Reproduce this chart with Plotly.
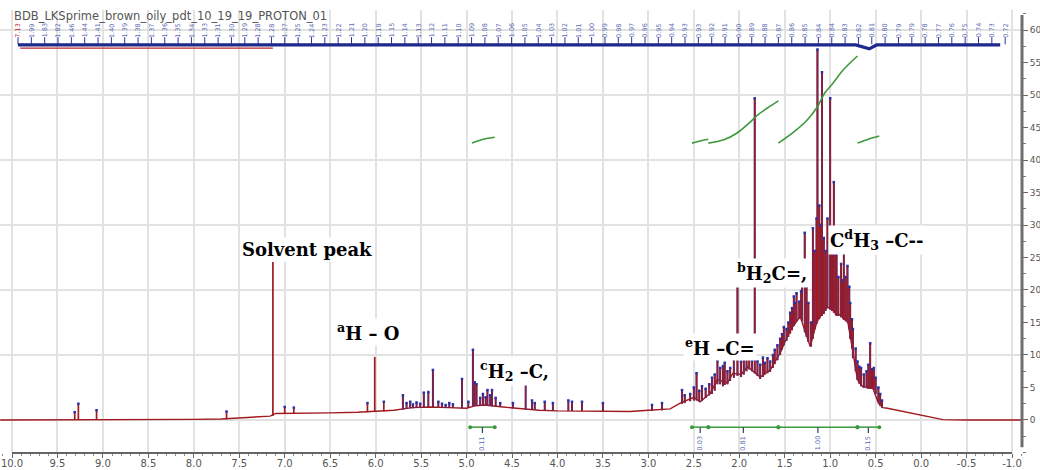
import numpy as np
import plotly.graph_objects as go

# ---------------- data ----------------
# continuous baseline / envelope of the 1H spectrum (ppm, intensity)
env_ppm = [10.13, 9.60, 9.00, 8.50, 8.00, 7.70, 7.50, 7.30, 7.16, 7.10, 6.80, 6.50, 6.20, 6.00,
           5.80, 5.60, 5.40, 5.20, 5.00, 4.90, 4.80, 4.60, 4.40, 4.20, 4.00, 3.80, 3.50, 3.20,
           3.00, 2.76, 2.65, 2.57, 2.50, 2.43, 2.32, 2.24, 2.13, 2.07, 1.98, 1.91, 1.77, 1.66,
           1.55, 1.44, 1.33, 1.22, 1.14, 1.03, 0.92, 0.81, 0.76, 0.70, 0.64, 0.53, 0.47, 0.42,
           0.37, 0.20, 0.01, -0.24, -0.50, -1.11]
env_int = [0.0, 0.0, 0.05, 0.05, 0.1, 0.15, 0.3, 0.5, 0.6, 1.0, 1.0, 1.1, 1.2, 1.3,
           1.5, 1.9, 2.0, 1.9, 1.8, 2.2, 2.3, 2.0, 1.7, 1.5, 1.4, 1.4, 1.3, 1.3,
           1.5, 1.7, 2.6, 3.1, 3.5, 2.8, 4.1, 6.2, 5.7, 7.2, 7.0, 8.2, 6.6, 7.7,
           10.3, 13.8, 15.9, 11.3, 15.4, 17.4, 16.4, 15.4, 11.3, 6.2, 5.1, 4.9, 2.6, 1.9,
           1.8, 1.3, 0.8, 0.05, 0.0, 0.0]

# isolated sharp lines (ppm, foot, top)
sharp_peaks = [(9.31, 0.0, 1.2), (9.27, 0.0, 2.5), (9.07, 0.05, 1.5), (7.64, 0.1, 1.3),
               (7.13, 0.6, 24.3), (7.00, 1.0, 2.0), (6.90, 1.0, 1.9), (6.09, 1.2, 2.6),
               (6.01, 1.25, 9.7), (5.91, 1.3, 2.8)]

# multiplets between 5.7 and 2.8 ppm (ppm, foot, top)
mid_peaks = [(5.70, 1.6, 3.8), (5.66, 1.7, 2.6), (5.62, 1.8, 2.8), (5.59, 1.8, 2.4), (5.55, 1.9, 2.7),
             (5.51, 1.9, 2.5), (5.47, 2.0, 4.2), (5.42, 2.0, 4.3), (5.37, 2.0, 7.7), (5.31, 2.0, 2.8),
             (5.27, 1.9, 2.5), (5.23, 1.9, 2.3), (5.19, 1.9, 2.6), (5.15, 1.9, 2.4), (5.05, 1.8, 6.3),
             (4.98, 1.9, 2.8), (4.93, 2.1, 10.8), (4.91, 2.2, 5.8), (4.89, 2.2, 5.5), (4.85, 2.2, 3.4),
             (4.82, 2.3, 4.0), (4.79, 2.3, 3.5), (4.77, 2.2, 4.6), (4.74, 2.2, 3.8), (4.72, 2.1, 4.6),
             (4.68, 2.1, 3.4), (4.63, 2.0, 2.6), (4.49, 1.8, 2.6), (4.35, 1.6, 5.8), (4.28, 1.6, 3.0),
             (4.25, 1.6, 2.6), (4.14, 1.5, 2.8), (4.05, 1.4, 2.6), (3.88, 1.4, 3.0), (3.84, 1.4, 2.8),
             (3.73, 1.4, 2.8), (3.50, 1.3, 2.6), (2.96, 1.4, 2.3), (2.85, 1.5, 2.6)]

# dense aliphatic envelope 2.65 - 0.43 ppm (ppm, foot, top)
hump_peaks = [(2.63, 2.5, 4.6), (2.60, 2.6, 3.8), (2.54, 2.9, 4.0), (2.50, 3.0, 5.0), (2.47, 3.0, 7.2),
              (2.44, 2.8, 4.5), (2.41, 3.0, 5.2), (2.37, 3.4, 4.8), (2.33, 3.8, 5.5), (2.30, 4.0, 6.5),
              (2.27, 4.5, 7.0), (2.24, 5.5, 9.2), (2.21, 5.5, 8.0), (2.18, 5.2, 8.3), (2.16, 5.4, 8.8),
              (2.13, 5.5, 7.5), (2.10, 6.0, 8.0), (2.06, 6.5, 9.3), (2.02, 6.8, 21.0), (1.98, 6.6, 9.0),
              (1.95, 7.0, 10.5), (1.92, 7.5, 9.8), (1.89, 7.8, 10.2), (1.86, 7.5, 9.2), (1.83, 7.2, 49.5),
              (1.80, 6.8, 9.0), (1.77, 6.3, 8.5), (1.74, 6.6, 9.6), (1.72, 7.0, 8.8), (1.69, 7.2, 9.5),
              (1.66, 7.4, 9.0), (1.63, 8.0, 10.0), (1.61, 8.6, 10.8), (1.58, 9.2, 11.5), (1.55, 10.0, 12.5),
              (1.53, 10.8, 13.2), (1.51, 11.5, 14.3), (1.48, 12.2, 14.0), (1.46, 12.8, 15.0), (1.44, 13.3, 16.5),
              (1.42, 13.8, 17.2), (1.40, 14.5, 19.0), (1.39, 14.8, 18.0), (1.37, 15.2, 19.5), (1.34, 15.6, 18.2),
              (1.32, 15.8, 19.8), (1.31, 15.2, 21.0), (1.28, 13.5, 28.8), (1.26, 12.8, 20.5), (1.24, 12.0, 18.0),
              (1.21, 11.3, 15.0), (1.19, 12.5, 29.5), (1.17, 14.0, 26.0), (1.15, 14.8, 31.0), (1.14, 15.2, 57.0),
              (1.12, 15.5, 33.0), (1.11, 15.8, 30.0), (1.09, 16.0, 53.5), (1.07, 16.3, 28.0), (1.05, 16.8, 26.0),
              (1.03, 17.2, 31.0), (1.00, 17.0, 49.5), (0.98, 16.8, 27.0), (0.96, 16.5, 36.6), (0.94, 16.2, 25.5),
              (0.93, 16.0, 26.6), (0.91, 16.0, 22.0), (0.88, 15.8, 24.0), (0.86, 15.6, 21.5), (0.85, 15.4, 26.6),
              (0.83, 15.2, 22.0), (0.81, 15.0, 23.7), (0.79, 14.0, 20.5), (0.78, 12.5, 18.0), (0.76, 11.0, 15.5),
              (0.75, 9.5, 14.0), (0.72, 7.5, 11.0), (0.70, 6.2, 9.0), (0.68, 5.6, 8.2), (0.66, 5.2, 8.0),
              (0.63, 5.0, 7.0), (0.60, 4.9, 7.5), (0.58, 4.8, 8.5), (0.56, 4.8, 11.8), (0.54, 4.8, 7.8),
              (0.52, 4.6, 8.0), (0.50, 4.0, 6.5), (0.47, 2.8, 5.0), (0.45, 2.2, 4.0), (0.43, 1.9, 3.0)]

# peak-pick labels along the top
peak_labels = ["7.13", "1.99", "1.83", "1.82", "1.46", "1.44", "1.41", "1.40", "1.39", "1.38",
               "1.37", "1.36", "1.35", "1.34", "1.33", "1.31", "1.30", "1.29", "1.28", "1.28",
               "1.27", "1.25", "1.24", "1.23", "1.22", "1.21", "1.20", "1.19", "1.15", "1.14",
               "1.13", "1.12", "1.11", "1.10", "1.09", "1.08", "1.07", "1.06", "1.05", "1.04",
               "1.03", "1.02", "1.01", "1.00", "0.99", "0.98", "0.97", "0.96", "0.95", "0.94",
               "0.93", "0.93", "0.92", "0.91", "0.90", "0.89", "0.88", "0.87", "0.86", "0.85",
               "0.84", "0.84", "0.83", "0.82", "0.81", "0.80", "0.79", "0.79", "0.78", "0.77",
               "0.76", "0.75", "0.74", "0.73", "0.72"]

# integrals
integral_from = [4.96, 2.52, 2.34, 1.57, 0.70]
integral_to = [4.69, 2.34, 1.57, 0.70, 0.46]
integral_values = ["0.11", "0.03", "0.81", "1.00", "0.15"]
integral_curve_ppm = [[4.94, 4.86, 4.78, 4.69],
                      [2.52, 2.44, 2.34],
                      [2.34, 2.17, 2.02, 1.89, 1.80, 1.69, 1.57],
                      [1.57, 1.41, 1.25, 1.14, 1.06, 0.97, 0.86, 0.70],
                      [0.70, 0.58, 0.46]]
integral_curve_val = [[42.6, 43.0, 43.3, 43.5],
                      [42.6, 42.9, 43.2],
                      [42.6, 43.1, 44.2, 45.7, 46.9, 48.0, 49.1],
                      [42.6, 44.2, 46.2, 48.2, 50.3, 51.8, 53.8, 56.0],
                      [42.6, 43.2, 43.7]]

# assignment labels
label_text = ["<b>Solvent peak</b>", "<b><sup>a</sup>H – O</b>", "<b><sup>c</sup>H<sub>2</sub> –C,</b>",
              "<b><sup>e</sup>H –C=</b>", "<b><sup>b</sup>H<sub>2</sub>C=,</b>",
              "<b>C<sup>d</sup>H<sub>3</sub> –C--</b>"]
label_ppm = [6.755, 6.08, 4.47, 2.21, 1.64, 0.495]
label_int = [26.2, 13.5, 7.5, 11.2, 22.6, 27.7]

x_ticks = [10.0, 9.5, 9.0, 8.5, 8.0, 7.5, 7.0, 6.5, 6.0, 5.5, 5.0, 4.5, 4.0, 3.5, 3.0,
           2.5, 2.0, 1.5, 1.0, 0.5, 0.0, -0.5, -1.0]
y_ticks = [0, 5, 10, 15, 20, 25, 30, 35, 40, 45, 50, 55, 60]
y_grid = [0, 10, 20, 30, 40, 50, 60]

title_text = "BDB_LKSprime_brown_oily_pdt_10_19_19_PROTON_01"

# ---------------- styling / layout constants ----------------
X_RANGE = [10.132, -1.11]
Y_RANGE = [-5.08, 63.08]
RED = "#a01a1f"
BLUE = "#2a33a6"
GREEN = "#3c9a3c"
LBL = "#5a6ab0"


def sticks(peaks):
    xs, ys = [], []
    for p, lo, hi in peaks:
        xs += [p, p, None]
        ys += [lo, hi, None]
    return xs, ys


fig = go.Figure()

# spectrum envelope
fig.add_trace(go.Scatter(x=env_ppm, y=env_int, mode="lines",
                         line=dict(color=RED, width=1.4), hoverinfo="skip"))

# blue underlay + red lines for multiplets
for grp, wb, wr in [(mid_peaks, 2.0, 1.3), (hump_peaks, 2.0, 1.6)]:
    xs, ys = sticks(grp)
    fig.add_trace(go.Scatter(x=xs, y=ys, mode="lines", line=dict(color=BLUE, width=wb),
                             hoverinfo="skip"))
    fig.add_trace(go.Scatter(x=xs, y=ys, mode="lines", line=dict(color=RED, width=wr),
                             hoverinfo="skip"))

xs, ys = sticks(sharp_peaks)
fig.add_trace(go.Scatter(x=xs, y=ys, mode="lines", line=dict(color=RED, width=1.7),
                         hoverinfo="skip"))

# blue peak-pick marks at tops
mk = [p for p in mid_peaks + hump_peaks] + [p for p in sharp_peaks if p[2] < 5]
fig.add_trace(go.Scatter(x=[p[0] for p in mk], y=[p[2] for p in mk], mode="markers",
                         marker=dict(color=BLUE, size=2.5, symbol="square"), hoverinfo="skip"))

# integral curves
for cx, cy in zip(integral_curve_ppm, integral_curve_val):
    fig.add_trace(go.Scatter(x=cx, y=cy, mode="lines", line=dict(color=GREEN, width=1.6),
                             line_shape="spline", hoverinfo="skip"))

# integral brackets
BR = -1.1
bx, by = [], []
ends = []
for a, b in zip(integral_from, integral_to):
    bx += [a, b, None]
    by += [BR, BR, None]
    ends += [a, b]
fig.add_trace(go.Scatter(x=bx, y=by, mode="lines", line=dict(color=GREEN, width=1.5),
                         hoverinfo="skip"))
fig.add_trace(go.Scatter(x=ends, y=[BR] * len(ends), mode="markers",
                         marker=dict(color=GREEN, size=4), hoverinfo="skip"))
mids = [(a + b) / 2 for a, b in zip(integral_from, integral_to)]
tx, ty = [], []
for m in mids:
    tx += [m, m, None]
    ty += [BR, BR - 0.9, None]
fig.add_trace(go.Scatter(x=tx, y=ty, mode="lines", line=dict(color="#333a66", width=1.2),
                         hoverinfo="skip"))

# peak label row at top
n = len(peak_labels)
lab_x = np.linspace(9.934, -0.925, n)
lx, ly = [], []
for x in lab_x:
    lx += [x, x, None]
    ly += [58.9, 57.8, None]
fig.add_trace(go.Scatter(x=lx, y=ly, mode="lines", line=dict(color=BLUE, width=1),
                         hoverinfo="skip"))
fig.add_trace(go.Scatter(x=[9.934, 0.72, 0.57, 0.49, -0.87], y=[57.7, 57.7, 57.1, 57.7, 57.7],
                         mode="lines", line=dict(color="#1c2a8c", width=3.2), hoverinfo="skip"))
fig.add_trace(go.Scatter(x=[9.91, 7.13], y=[57.2, 57.2], mode="lines",
                         line=dict(color="#c0282d", width=1.3), hoverinfo="skip"))

annotations = []
for i, (x, t) in enumerate(zip(lab_x, peak_labels)):
    annotations.append(dict(x=x, y=59.9, xref="x", yref="y", text=t, showarrow=False,
                            textangle=-90, font=dict(family="DejaVu Sans", size=6.5,
                                                     color="#c0282d" if i == 0 else LBL)))
for m, t in zip(mids, integral_values):
    annotations.append(dict(x=m, y=-2.2, xref="x", yref="y", text=t, showarrow=False,
                            textangle=-90, yanchor="top",
                            font=dict(family="DejaVu Sans", size=6.5, color=LBL)))
for t, x, y in zip(label_text, label_ppm, label_int):
    annotations.append(dict(x=x, y=y, xref="x", yref="y", text=t, showarrow=False,
                            bgcolor="white", borderpad=1,
                            font=dict(family="DejaVu Serif", size=18, color="black")))
annotations.append(dict(x=12 / 1022, y=(453 - 16) / 443, xref="paper", yref="paper",
                        text=title_text, showarrow=False, xanchor="left", yanchor="middle",
                        font=dict(family="DejaVu Sans", size=11.5, color="#555555")))
annotations.append(dict(x=0.496, y=-0.038, xref="paper", yref="paper", yanchor="top",
                        text="f1 (ppm)", showarrow=False,
                        font=dict(family="DejaVu Sans", size=9, color="#555555")))

shapes = []
for g in y_grid:
    shapes.append(dict(type="line", xref="paper", x0=0, x1=1, yref="y", y0=g, y1=g,
                       line=dict(color="#e2e2e2", width=2), layer="below"))
# right axis line and bottom axis line
shapes.append(dict(type="line", xref="paper", x0=1.0, x1=1.0, yref="y", y0=-4.2, y1=62.3,
                   line=dict(color="#6e6e6e", width=3)))
shapes.append(dict(type="line", xref="x", x0=10.0, x1=-1.0, yref="paper", y0=0, y1=0,
                   line=dict(color="#666666", width=2)))

fig.update_layout(
    width=1040, height=470,
    margin=dict(l=0, r=18, t=10, b=17),
    paper_bgcolor="white", plot_bgcolor="white",
    showlegend=False,
    annotations=annotations, shapes=shapes,
    xaxis=dict(range=X_RANGE, tickvals=x_ticks, ticktext=[f"{v:.1f}" for v in x_ticks],
               showgrid=True, gridcolor="#e2e2e2", gridwidth=2, zeroline=False,
               showline=False, ticks="outside", ticklen=4, tickcolor="#666666",
               ticklabelstandoff=-3,
               tickfont=dict(family="DejaVu Sans", size=10, color="#555555"),
               minor=dict(dtick=0.1, tick0=0, ticks="outside", ticklen=2, tickcolor="#888888",
                          showgrid=False),
               automargin=False),
    yaxis=dict(range=Y_RANGE, side="right", tickvals=y_ticks, ticktext=[str(v) for v in y_ticks],
               showgrid=False, zeroline=False, showline=False, ticks="outside", ticklen=5,
               tickcolor="#666666",
               tickfont=dict(family="DejaVu Sans", size=9, color="#555555"),
               minor=dict(dtick=2.5, tick0=0, ticks="outside", ticklen=3, tickcolor="#777777",
                          showgrid=False),
               automargin=False),
)

fig.write_html("out.html", config={"displayModeBar": False})
